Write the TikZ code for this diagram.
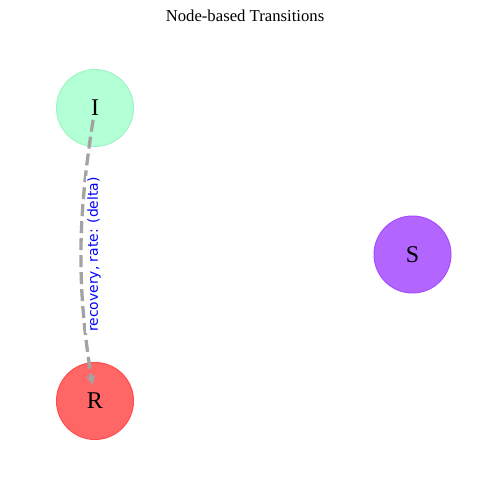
\documentclass[tikz,border=0pt]{standalone}
\usepackage{fontspec}
\setmainfont{Liberation Serif}
\newfontfamily\labfont{DejaVu Sans}
\usetikzlibrary{arrows.meta,calc}
\definecolor{ifill}{HTML}{B3FFD6}
\definecolor{idraw}{HTML}{9DF5C6}
\definecolor{sfill}{HTML}{B366FF}
\definecolor{sdraw}{HTML}{A64DFF}
\definecolor{rfill}{HTML}{FF6666}
\definecolor{rdraw}{HTML}{FF4D4D}
\definecolor{edgegray}{HTML}{A3A3A3}
\tikzset{
  statenode/.style={circle, minimum size=77pt, inner sep=0pt, line width=1pt, font=\fontsize{24}{24}\selectfont},
  transedge/.style={edgegray, line width=3.3pt, dash pattern=on 12pt off 5pt, -{Stealth[length=10pt,width=9pt]}, shorten <=12pt, shorten >=16pt},
  translabel/.style={blue, fill=white, inner sep=1pt, rotate=90, font=\labfont\fontsize{13.9}{14}\selectfont},
  titletext/.style={font=\fontsize{16.7}{17}\selectfont}
}
\begin{document}
\begin{tikzpicture}[x=1pt,y=-1pt]
\useasboundingbox (0,0) rectangle (490,490);
\node[titletext] (title) at (245,16) {Node-based Transitions};
\node[statenode, fill=ifill, draw=idraw] (I) at (95,108) {I};
\node[statenode, fill=sfill, draw=sdraw] (S) at (412.5,254.5) {S};
\node[statenode, fill=rfill, draw=rdraw] (R) at (95,401) {R};
\draw[transedge] (I.center) to[bend right=9] (R.center);
\node[translabel] (lab) at ($(I.center)!0.5!(R.center)+(-1,0)$) {recovery, rate: (delta)};
\end{tikzpicture}
\end{document}
